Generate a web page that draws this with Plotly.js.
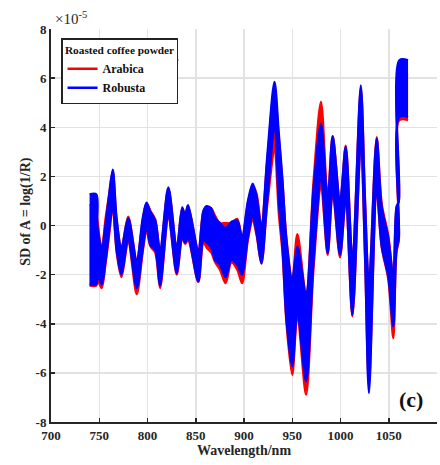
<!DOCTYPE html>
<html>
<head>
<meta charset="utf-8">
<script src="https://cdn.plot.ly/plotly-3.0.1.min.js"></script>
<style>html,body{margin:0;padding:0;background:#fff;}#chart{width:440px;height:465px;}</style>
</head>
<body>
<div id="chart"></div>
<script>
// Wavelength (nm) sample points
const wavelength = [740, 747, 748, 752.5, 756.7, 760, 764, 768, 773, 780, 788.8, 795, 799, 803, 808, 813, 821.6, 830.3, 836, 839, 842, 852.6, 858, 861.3, 866, 870, 875, 881, 887, 893, 898, 904, 909, 913, 918, 924, 931.6, 936, 940, 944, 950, 955.3, 964.3, 972, 979.8, 986.7, 991.9, 999.5, 1005.4, 1012.3, 1021, 1025.4, 1029.5, 1037.5, 1042.7, 1049.5, 1054.7, 1058, 1060.5, 1061, 1070];
// Robusta (blue) bundle: upper and lower envelope, x10^-5
const robustaUpper = [1.27, 1.27, 0.0, -0.9, 0.1, 1.2, 2.28, 0.3, -0.9, 0.3, -1.4, 0.3, 0.93, 0.56, 0.22, -1.0, 1.55, -0.86, 0.74, 0.4, 0.83, -1.0, 0.6, 0.79, 0.7, 0.3, 0.1, -0.1, 0.15, 0.2, -0.45, 1.0, 1.71, 1.2, -0.05, 2.8, 5.85, 3.8, 1.8, -0.6, -2.2, -0.86, -2.75, 1.5, 4.15, 1.04, 3.64, 1.0, 3.2, -1.27, 5.71, 1.04, -2.35, 3.54, 0.76, -0.5, -2.08, 0.76, 1.0, 6.73, 6.73];
const robustaLower = [-2.4, -2.4, -2.0, -2.4, -1.4, -0.3, 0.8, -1.0, -2.0, -0.6, -2.55, -1.0, -0.05, -0.79, -1.0, -2.45, 0.36, -1.94, -0.5, -0.7, -0.5, -2.28, -0.6, -0.7, -0.9, -1.4, -1.6, -2.1, -1.4, -1.6, -2.0, -0.5, 0.36, -0.3, -1.54, 1.0, 3.9, 1.0, -1.0, -3.84, -5.74, -3.56, -6.35, -1.5, 1.85, -1.13, 1.44, -1.2, 1.04, -3.64, 3.34, -1.27, -6.82, 1.44, -0.86, -2.08, -4.11, -1.0, -0.5, 4.42, 4.42];
// Arabica (red) bundle: upper and lower envelope, x10^-5
const arabicaUpper = [0.83, 0.83, 0.3, -0.9, 0.35, 1.2, 2.2, 0.2, -0.9, 0.36, -1.4, 0.2, 0.9, 0.6, 0.25, -1.0, 1.5, -0.9, 0.7, 0.45, 0.8, -1.0, 0.6, 0.75, 0.7, 0.4, 0.1, 0.1, 0.1, 0.27, -0.5, 0.9, 1.6, 1.3, 0.0, 2.6, 5.6, 3.6, 1.7, -0.5, -2.2, -0.35, -2.75, 1.8, 5.03, 1.2, 3.64, 1.0, 3.25, -1.27, 5.6, 1.1, -2.35, 3.6, 0.9, -0.4, -2.0, 0.7, 1.0, 6.1, 6.1];
const arabicaLower = [-2.45, -2.45, -2.2, -2.55, -1.5, -0.5, 0.7, -1.1, -2.1, -0.7, -2.8, -1.1, -0.2, -0.85, -1.1, -2.55, 0.3, -2.0, -0.55, -0.75, -0.6, -2.3, -0.7, -0.9, -1.1, -1.5, -1.8, -2.35, -1.5, -1.8, -2.35, -0.6, 0.2, -0.4, -1.55, 0.8, 3.0, 0.5, -1.2, -4.0, -6.08, -3.7, -6.89, -1.8, 1.5, -1.2, 1.3, -1.3, 1.0, -3.7, 3.2, -1.3, -6.5, 1.3, -0.9, -2.2, -4.59, -1.1, -0.6, 4.29, 4.29];

const xTicks = [700, 750, 800, 850, 900, 950, 1000, 1050, 1100];
const yTicks = [-8, -6, -4, -2, 0, 2, 4, 6, 8];
const seriesNames = ['Arabica', 'Robusta'];
const RED = '#ff0000', BLUE = '#0000ff';
const SERIF = 'Liberation Serif, Times New Roman, serif';

function band(lower, upper, color) {
  const ln = {color: color, width: 2.2, shape: 'spline', smoothing: 0.9};
  return [
    {x: wavelength, y: lower, mode: 'lines', line: ln, showlegend: false, hoverinfo: 'skip'},
    {x: wavelength, y: upper, mode: 'lines', line: ln, fill: 'tonexty', fillcolor: color, showlegend: false, hoverinfo: 'skip'}
  ];
}

const traces = [].concat(
  band(arabicaLower, arabicaUpper, RED),
  band(robustaLower, robustaUpper, BLUE),
  [
    {x: [null], y: [null], mode: 'lines', name: seriesNames[0], line: {color: RED, width: 2.5}},
    {x: [null], y: [null], mode: 'lines', name: seriesNames[1], line: {color: BLUE, width: 2.5}}
  ]
);

const axisCommon = {
  showgrid: true, gridcolor: '#e2e2e2', gridwidth: 1.5,
  showline: true, linecolor: '#262626', linewidth: 2, mirror: false,
  ticks: 'inside', ticklen: 4, tickwidth: 1.5, tickcolor: '#262626',
  zeroline: false,
  tickfont: {family: SERIF, size: 13, color: '#262626', weight: 'bold'}
};

const layout = {
  width: 440, height: 465,
  margin: {l: 51, r: 3, t: 29, b: 43},
  paper_bgcolor: '#fff', plot_bgcolor: '#fff',
  xaxis: Object.assign({}, axisCommon, {
    range: [700, 1100], tickmode: 'array', tickvals: xTicks, ticktext: xTicks.map(String),
    title: {text: '<b>Wavelength/nm</b>', font: {family: SERIF, size: 14, color: '#262626'}, standoff: 4}
  }),
  yaxis: Object.assign({}, axisCommon, {
    range: [-8, 8], tickmode: 'array', tickvals: yTicks, ticktext: yTicks.map(String)
  }),
  showlegend: true,
  legend: {
    x: 0.026, y: 0.977, xanchor: 'left', yanchor: 'top',
    bgcolor: '#fff', bordercolor: '#222', borderwidth: 1.5,
    font: {family: SERIF, size: 12, color: '#111', weight: 'bold'},
    title: {text: '<b>Roasted coffee powder</b>', side: 'top center', font: {family: SERIF, size: 11.3, color: '#111'}},
    itemwidth: 30, tracegroupgap: 0, traceorder: 'normal'
  },
  shapes: [
    {type: 'line', xref: 'paper', yref: 'paper', x0: 0.026, x1: 0.33, y0: 0.921, y1: 0.921, line: {color: '#222', width: 1.5}}
  ],
  annotations: [
    {text: '×10<sup>-5</sup>', xref: 'paper', yref: 'paper', x: 0.005, y: 1.0, xanchor: 'left', yanchor: 'bottom', showarrow: false, font: {family: SERIF, size: 15, color: '#262626'}},
    {text: '<b>SD of A = log(1/R)</b>', xref: 'paper', yref: 'paper', x: -0.065, y: 0.537, textangle: -90, xanchor: 'center', yanchor: 'middle', showarrow: false, font: {family: SERIF, size: 14, color: '#262626'}},
    {text: '<b>(c)</b>', xref: 'paper', yref: 'paper', x: 0.933, y: 0.056, xanchor: 'center', yanchor: 'middle', showarrow: false, font: {family: SERIF, size: 22, color: '#111'}}
  ]
};

Plotly.newPlot('chart', traces, layout, {displayModeBar: false, staticPlot: true});
</script>
</body>
</html>
